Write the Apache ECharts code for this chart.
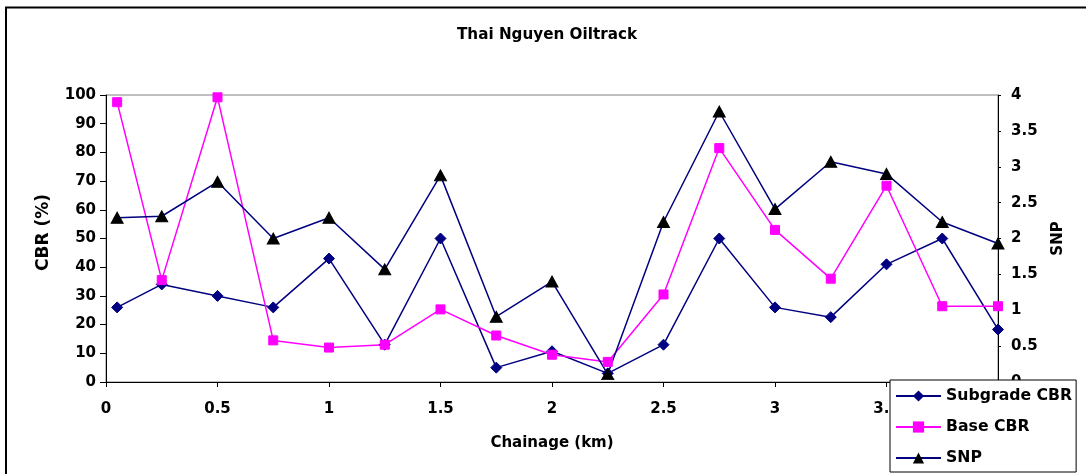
<!DOCTYPE html>
<html>
<head>
<meta charset="utf-8">
<script src="https://cdn.jsdelivr.net/npm/echarts@6/dist/echarts.min.js"></script>
<style>
html,body{margin:0;padding:0;background:#fff;}
#chart{width:1086px;height:474px;}
</style>
</head>
<body>
<div id="chart"></div>
<script>
var chainage = [0.05, 0.25, 0.5, 0.75, 1.0, 1.25, 1.5, 1.75, 2.0, 2.25, 2.5, 2.75, 3.0, 3.25, 3.5, 3.75, 4.0];
var subgradeCBR = [26, 34, 30, 26, 43, 13, 50, 5, 10.7, 3, 13, 50, 26, 22.6, 41, 50, 18.3];
var baseCBR = [97.5, 35.5, 99.2, 14.5, 12, 13, 25.3, 16.2, 9.5, 7, 30.5, 81.5, 53, 36, 68.4, 26.4, 26.4];
var snp = [2.29, 2.31, 2.79, 2.0, 2.29, 1.57, 2.88, 0.91, 1.40, 0.11, 2.23, 3.77, 2.41, 3.07, 2.9, 2.23, 1.93];

function pairs(xs, ys) { return xs.map(function (x, i) { return [x, ys[i]]; }); }

var FONT = 'DejaVu Sans';
var chart = echarts.init(document.getElementById('chart'), null, {renderer: 'canvas'});
chart.setOption({
  backgroundColor: '#ffffff',
  animation: false,
  title: {
    text: 'Thai Nguyen Oiltrack',
    left: 452,
    top: 23,
    padding: 5,
    textStyle: {fontFamily: FONT, fontWeight: 'bold', fontSize: 15.2, color: '#000'}
  },
  graphic: [{
    type: 'rect',
    shape: {x: 6, y: 7.5, width: 1200, height: 600},
    style: {fill: 'none', stroke: '#000', lineWidth: 2},
    silent: true,
    z: 100
  }],
  grid: {
    left: 106, right: 88, top: 95, bottom: 92,
    show: true, borderColor: '#808080', borderWidth: 1, backgroundColor: 'transparent'
  },
  legend: {
    orient: 'vertical',
    left: 890, top: 380,
    backgroundColor: '#ffffff',
    borderColor: '#000',
    borderWidth: 1,
    padding: [8, 4, 6, 5],
    itemWidth: 45, itemHeight: 14, itemGap: 15,
    textStyle: {fontFamily: FONT, fontWeight: 'bold', fontSize: 15.7, color: '#000'},
    data: ['Subgrade CBR', 'Base CBR', 'SNP']
  },
  xAxis: {
    type: 'value', min: 0, max: 4, interval: 0.5,
    name: 'Chainage (km)', nameLocation: 'middle', nameGap: 54,
    nameTextStyle: {fontFamily: FONT, fontWeight: 'bold', fontSize: 15, color: '#000'},
    axisLine: {show: true, lineStyle: {color: '#000', width: 1}},
    axisTick: {show: true, length: 5, lineStyle: {color: '#000'}},
    axisLabel: {margin: 20, fontFamily: FONT, fontWeight: 'bold', fontSize: 15, color: '#000'},
    splitLine: {show: false}
  },
  yAxis: [{
    type: 'value', min: 0, max: 100, interval: 10, position: 'left',
    name: 'CBR (%)', nameLocation: 'middle', nameGap: 54, nameRotate: 90,
    nameTextStyle: {fontFamily: FONT, fontWeight: 'bold', fontSize: 17, color: '#000', padding: [0, 0, 0, 12]},
    axisLine: {show: true, lineStyle: {color: '#000', width: 1}},
    axisTick: {show: true, length: 6, lineStyle: {color: '#000'}},
    axisLabel: {margin: 10, fontFamily: FONT, fontWeight: 'bold', fontSize: 15, color: '#000'},
    splitLine: {show: false}
  }, {
    type: 'value', min: 0, max: 4, interval: 0.5, position: 'right',
    name: 'SNP', nameLocation: 'middle', nameGap: 53, nameRotate: 90,
    nameTextStyle: {fontFamily: FONT, fontWeight: 'bold', fontSize: 15, color: '#000'},
    axisLine: {show: true, lineStyle: {color: '#000', width: 1}},
    axisTick: {show: true, length: 3, lineStyle: {color: '#000'}},
    axisLabel: {margin: 13, fontFamily: FONT, fontWeight: 'bold', fontSize: 15, color: '#000'},
    splitLine: {show: false}
  }],
  series: [{
    name: 'Subgrade CBR', type: 'line', yAxisIndex: 0,
    data: pairs(chainage, subgradeCBR),
    symbol: 'diamond', symbolSize: 11,
    lineStyle: {color: '#000080', width: 1.5},
    itemStyle: {color: '#000080', borderColor: '#000080'}
  }, {
    name: 'Base CBR', type: 'line', yAxisIndex: 0,
    data: pairs(chainage, baseCBR),
    symbol: 'rect', symbolSize: 9,
    lineStyle: {color: '#ff00ff', width: 1.5},
    itemStyle: {color: '#ff00ff', borderColor: '#ff00ff'}
  }, {
    name: 'SNP', type: 'line', yAxisIndex: 1,
    data: pairs(chainage, snp),
    symbol: 'triangle', symbolSize: [12, 11],
    lineStyle: {color: '#000080', width: 1.5},
    itemStyle: {color: '#000000', borderColor: '#000000'}
  }]
});
</script>
</body>
</html>
